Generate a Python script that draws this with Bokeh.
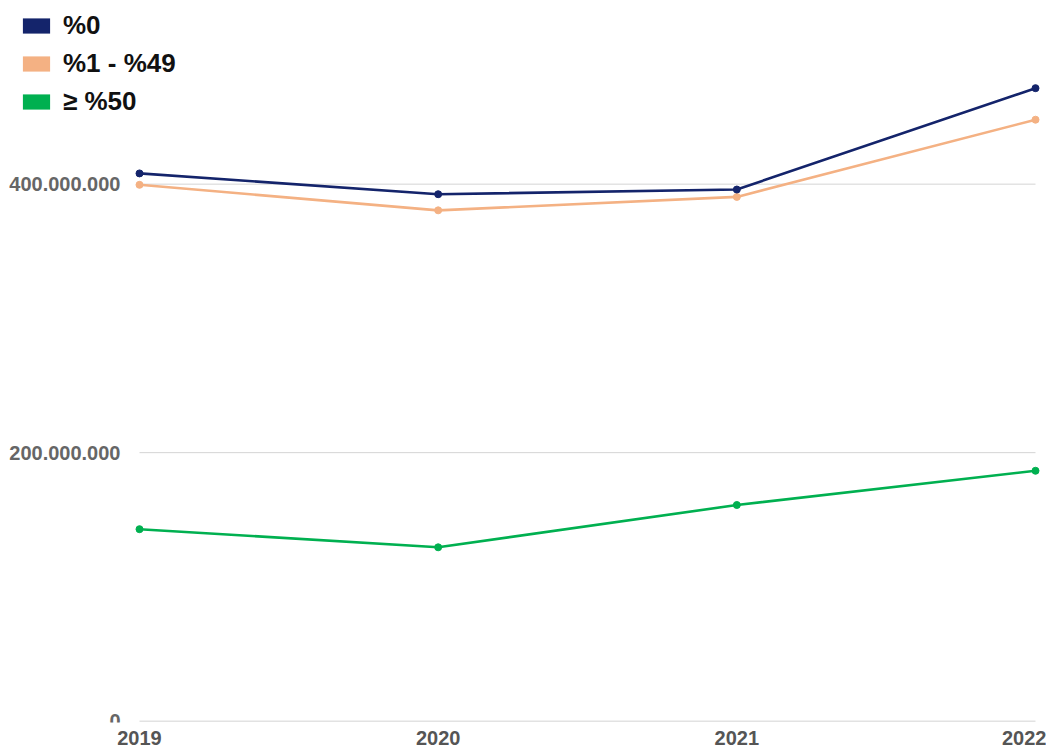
from bokeh.plotting import figure
from bokeh.models import Legend, LegendItem, FixedTicker, ColumnDataSource
from bokeh.embed import file_html
from bokeh.resources import INLINE

years = [2019, 2020, 2021, 2022]
year_labels = ["2019", "2020", "2021", "2022"]
series_names = ["%0", "%1 - %49", "≥ %50"]
s0 = [408_000_000, 392_500_000, 396_000_000, 471_500_000]
s1 = [399_500_000, 380_500_000, 390_500_000, 448_000_000]
s2 = [143_000_000, 129_500_000, 161_000_000, 186_500_000]
colors = ["#14246b", "#f4b183", "#00b050"]
y_ticks = [0, 200_000_000, 400_000_000]
y_tick_labels = ["0", "200.000.000", "400.000.000"]

p = figure(frame_width=1046, frame_height=722, output_backend="svg",
           toolbar_location=None,
           x_range=(2018.5346, 2022.0368), y_range=(-1_000_000, 536_800_000),
           min_border_left=0, min_border_right=0, min_border_top=0,
           min_border_bottom=0)
p.outline_line_color = None
p.background_fill_color = "white"
p.border_fill_color = "white"

# gridlines only across the data span
p.xgrid.grid_line_color = None
p.ygrid.grid_line_color = None
p.segment(x0=[years[0]] * len(y_ticks), x1=[years[-1]] * len(y_ticks),
          y0=y_ticks, y1=y_ticks, line_color="#d4d4d4", line_width=1)

p.yaxis.ticker = FixedTicker(ticks=y_ticks)
p.yaxis.major_label_overrides = {t: l for t, l in zip(y_ticks, y_tick_labels)}
p.yaxis.fixed_location = years[0]
p.xaxis.ticker = FixedTicker(ticks=years)
p.xaxis.major_label_overrides = {t: l for t, l in zip(years, year_labels)}

for ax in (p.xaxis, p.yaxis):
    ax.axis_line_color = None
    ax.major_tick_line_color = None
    ax.minor_tick_line_color = None
    ax.major_tick_out = 0
    ax.major_tick_in = 0
    ax.major_label_text_font = "Liberation Sans"
    ax.major_label_text_font_style = "bold"
    ax.major_label_text_color = "#666666"
p.yaxis.major_label_text_font_size = "20px"
p.yaxis.major_label_standoff = 19
p.xaxis.major_label_text_font_size = "20px"
p.xaxis.major_label_text_color = "#555555"
p.xaxis.major_label_standoff = 8

for vals, col in [(s2, colors[2]), (s1, colors[1]), (s0, colors[0])]:
    src = ColumnDataSource(dict(x=years, y=vals))
    p.line("x", "y", source=src, line_color=col, line_width=2.6)
    p.scatter("x", "y", source=src, size=7, fill_color=col, line_color=col)

nan = float("nan")
items = []
for col, name in zip(colors, series_names):
    r = p.quad(left=[nan], right=[nan], top=[nan], bottom=[nan],
               fill_color=col, line_color=None)
    items.append(LegendItem(label=name, renderers=[r]))

legend = Legend(items=items, location=(19, 605), orientation="vertical",
                glyph_width=34, glyph_height=19, label_height=28, spacing=7,
                padding=0, margin=0, label_standoff=10,
                label_text_font="Liberation Sans", label_text_font_style="bold",
                label_text_font_size="26px", label_text_color="#111111",
                border_line_color=None, background_fill_alpha=0)
p.add_layout(legend, "center")

open("out.html", "w").write(file_html(p, INLINE))
